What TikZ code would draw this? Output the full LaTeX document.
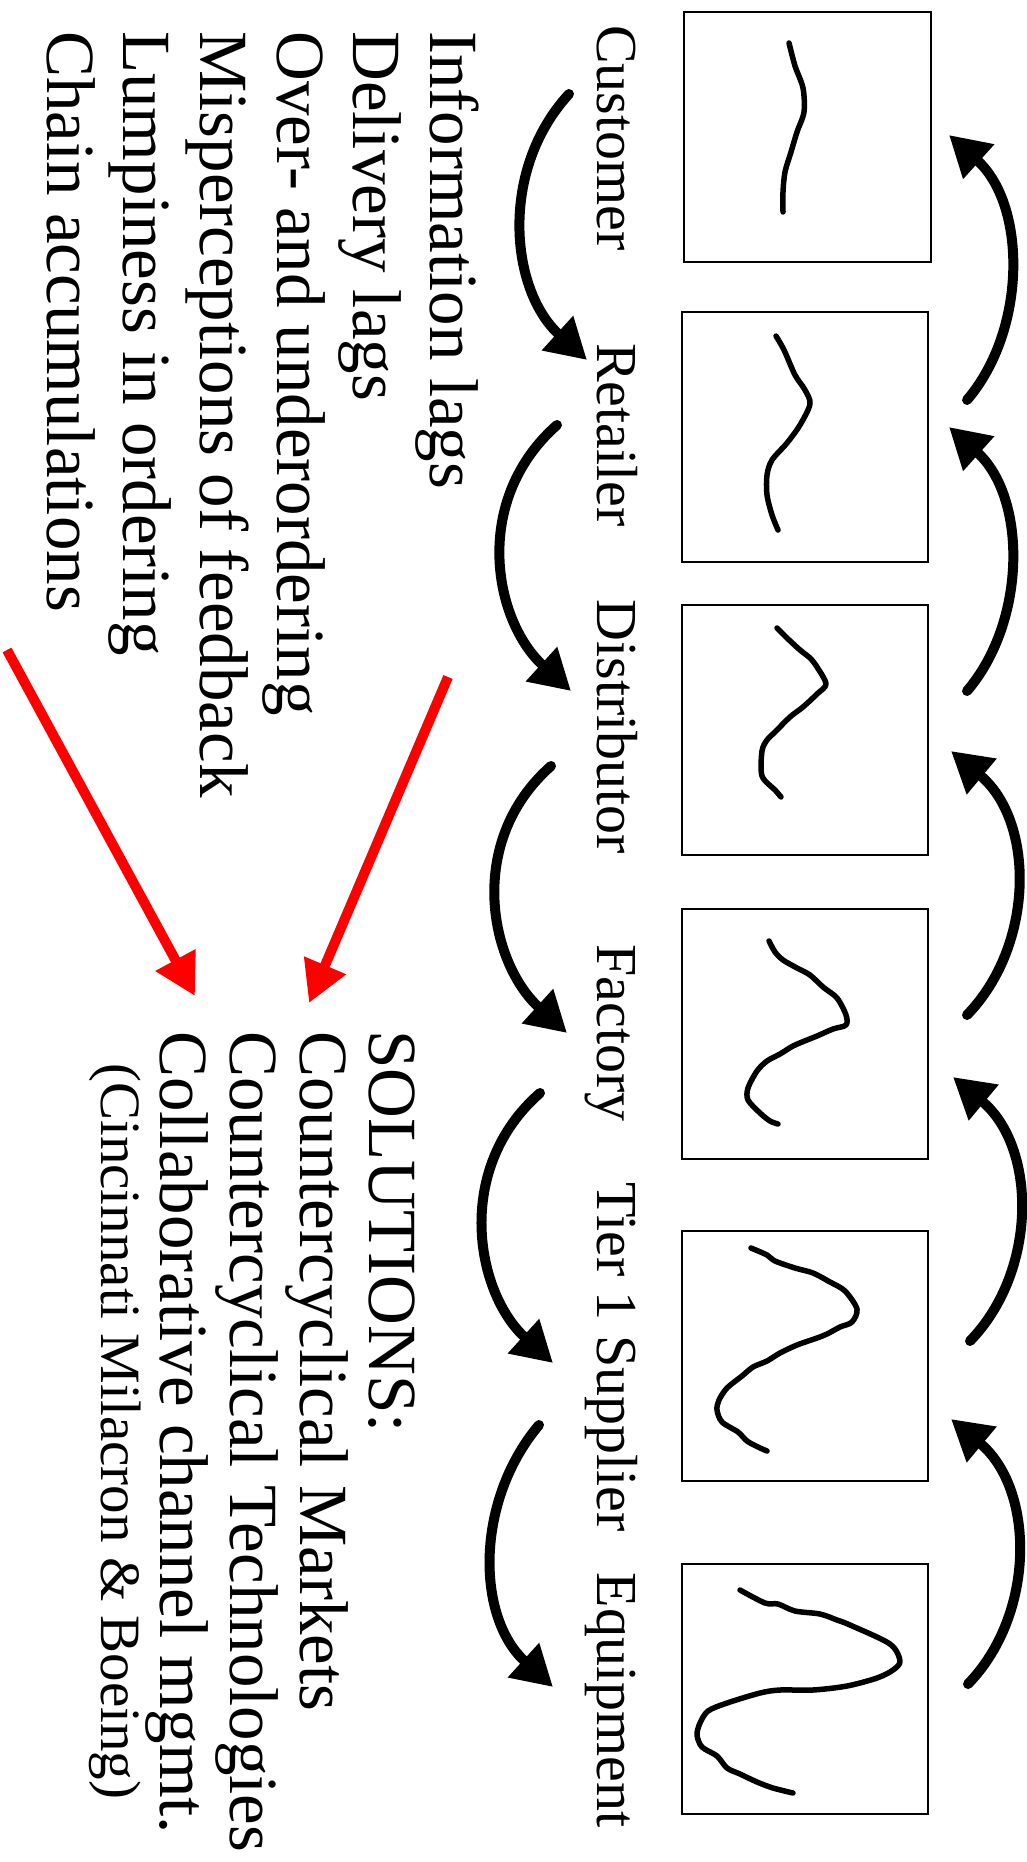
\documentclass[tikz,border=0pt]{standalone}
\usepackage{fontspec}
\setmainfont{Liberation Serif}
\usetikzlibrary{arrows.meta,calc}
\begin{document}
\begin{tikzpicture}[x=1pt,y=-1pt,
  box/.style={draw, line width=2pt, minimum width=246pt, minimum height=250pt, inner sep=0pt},
  wave/.style={line width=5.5pt, line cap=round, line join=round},
  flow/.style={line width=10pt, line cap=round, -{Triangle[length=40pt,width=44pt]}},
  redflow/.style={red, line width=10pt, -{Triangle[length=41pt,width=43pt]}},
  lbl/.style={rotate=-90, anchor=base, font=\fontsize{58}{60}\selectfont, inner sep=0pt},
  txt/.style={rotate=-90, anchor=base west, font=\fontsize{69}{77}\selectfont, inner sep=0pt},
  smalltxt/.style={rotate=-90, anchor=base west, font=\fontsize{57}{60}\selectfont, inner sep=0pt}]
\path[use as bounding box] (0,0) rectangle (1026,1862);

% boxes
\node[box, minimum width=247pt] (b1) at (807.5,137) {};
\node[box] (b2) at (805,437) {};
\node[box] (b3) at (805,729.5) {};
\node[box] (b4) at (805,1033.5) {};
\node[box] (b5) at (805,1355.5) {};
\node[box] (b6) at (805,1689) {};

% waves
\draw[wave] plot[smooth, tension=0.5] coordinates {(789,43) (795,66) (803,88) (804,112) (797,132) (791,152) (785,172) (783,192) (783,212)};
\draw[wave] plot[smooth, tension=0.5] coordinates {(776,336) (784,350) (795,375) (805,390) (810,404) (800,425) (787,443) (772,460) (767,475) (767,495) (772,515) (778,530)};
\draw[wave] plot[smooth, tension=0.5] coordinates {(777,628) (787,638) (800,650) (810,658) (817,667) (826,684) (817,694) (803,707) (790,717) (775,732) (767,740) (762,751) (762,776) (775,790) (781,797)};
\draw[wave] plot[smooth, tension=0.5] coordinates {(769,941) (775,952) (783,960) (797,968) (810,975) (823,987) (837,998) (846,1015) (846,1025) (833,1029) (817,1036) (807,1040) (793,1046) (780,1054) (767,1061) (757,1071) (748,1088) (748,1100) (760,1113) (770,1121) (778,1124)};
\draw[wave] plot[smooth, tension=0.5] coordinates {(751,1248) (767,1255) (775,1261) (795,1268) (813,1273) (830,1282) (845,1291) (857,1309) (852,1322) (840,1327) (827,1334) (817,1338) (797,1345) (780,1353) (767,1361) (753,1367) (742,1376) (727,1388) (719,1400) (717,1410) (722,1422) (738,1432) (747,1441) (758,1447) (767,1451)};
\draw[wave] plot[smooth, tension=0.5] coordinates {(740,1590) (765,1603) (778,1604) (795,1611) (820,1614) (837,1620) (850,1625) (890,1644) (900,1661) (893,1670) (877,1678) (847,1686) (813,1690) (780,1690) (760,1693) (727,1703) (708,1711) (700,1723) (697,1735) (702,1747) (717,1756) (727,1768) (740,1774) (757,1782) (773,1788) (793,1793)};

% stage labels
\node[lbl] (l1) at (597,138) {Customer};
\node[lbl] (l2) at (597,435) {Retailer};
\node[lbl] (l3) at (597,727) {Distributor};
\node[lbl] (l4) at (597,1033) {Factory};
\node[lbl] (l5) at (597,1357) {Tier 1 Supplier};
\node[lbl] (l6) at (597,1700) {Equipment};

% downward (left) arrows
\coordinate (d1s) at (569,94);   \coordinate (d1e) at (587,360);
\coordinate (d2s) at (557,425);  \coordinate (d2e) at (571,691);
\coordinate (d3s) at (551,766);  \coordinate (d3e) at (567,1033);
\coordinate (d4s) at (540,1093); \coordinate (d4e) at (553,1363);
\coordinate (d5s) at (539,1425); \coordinate (d5e) at (553,1687);
\draw[flow] (d1s) .. controls ($(d1s)+(-70,76)$) and ($(d1e)+(-77,-70)$) .. (d1e);
\draw[flow] (d2s) .. controls ($(d2s)+(-86,76)$) and ($(d2e)+(-77,-70)$) .. (d2e);
\draw[flow] (d3s) .. controls ($(d3s)+(-86,76)$) and ($(d3e)+(-77,-70)$) .. (d3e);
\draw[flow] (d4s) .. controls ($(d4s)+(-87,76)$) and ($(d4e)+(-77,-70)$) .. (d4e);
\draw[flow] (d5s) .. controls ($(d5s)+(-64,76)$) and ($(d5e)+(-77,-70)$) .. (d5e);

% upward (right) arrows
\coordinate (u1s) at (967,400);  \coordinate (u1e) at (949,135);
\coordinate (u2s) at (967,691);  \coordinate (u2e) at (949,427);
\coordinate (u3s) at (967,1015); \coordinate (u3e) at (951,751);
\coordinate (u4s) at (970,1341); \coordinate (u4e) at (953,1077);
\coordinate (u5s) at (968,1684); \coordinate (u5e) at (951,1419);
\draw[flow] (u1s) .. controls ($(u1s)+(60,-70)$) and ($(u1e)+(78,70)$) .. (u1e);
\draw[flow] (u2s) .. controls ($(u2s)+(60,-70)$) and ($(u2e)+(78,70)$) .. (u2e);
\draw[flow] (u3s) .. controls ($(u3s)+(68,-70)$) and ($(u3e)+(84,70)$) .. (u3e);
\draw[flow] (u4s) .. controls ($(u4s)+(68,-70)$) and ($(u4e)+(84,70)$) .. (u4e);
\draw[flow] (u5s) .. controls ($(u5s)+(68,-70)$) and ($(u5e)+(84,70)$) .. (u5e);

% causes
\node[txt] (c1) at (430,31) {Information lags};
\node[txt] (c2) at (353,31) {Delivery lags};
\node[txt] (c3) at (277,31) {Over- and underordering};
\node[txt] (c4) at (200,31) {Misperceptions of feedback};
\node[txt] (c5) at (123,31) {Lumpiness in ordering};
\node[txt] (c6) at (47,31) {Chain accumulations};

% solutions
\node[txt] (s0) at (369,1030) {SOLUTIONS:};
\node[txt] (s1) at (300,1031) {Countercyclical Markets};
\node[txt] (s2) at (230,1031) {Countercyclical Technologies};
\node[txt] (s3) at (160,1031) {Collaborative channel mgmt.};
\node[smalltxt] (s4) at (101,1063) {(Cincinnati Milacron \& Boeing)};

% red arrows
\coordinate (r1s) at (448,677); \coordinate (r1e) at (309,1003);
\coordinate (r2s) at (7,650);   \coordinate (r2e) at (195,996);
\draw[redflow] (r1s) -- (r1e);
\draw[redflow] (r2s) -- (r2e);
\end{tikzpicture}
\end{document}
